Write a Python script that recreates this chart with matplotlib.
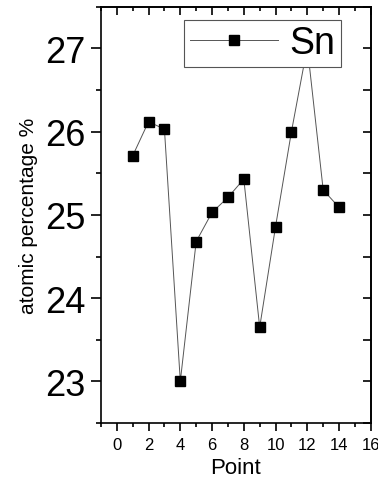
import matplotlib
matplotlib.use("Agg")
import matplotlib.pyplot as plt
from matplotlib.ticker import MultipleLocator

plt.rcParams["font.family"] = ["Liberation Sans", "DejaVu Sans"]

points = [1, 2, 3, 4, 5, 6, 7, 8, 9, 10, 11, 12, 13, 14]
sn = [25.71, 26.12, 26.03, 23.0, 24.68, 25.03, 25.21, 25.43, 23.65,
      24.86, 26.0, 27.02, 25.30, 25.09]

fig = plt.figure(figsize=(3.78, 4.89), dpi=100)
ax = fig.add_axes([0.267, 0.133, 0.714, 0.851])

ax.plot(points, sn, color="#555555", linewidth=0.7, marker="s",
        markersize=7, markerfacecolor="black", markeredgecolor="black",
        label="Sn")

ax.set_xlim(-1, 16)
ax.set_ylim(22.5, 27.5)
ax.xaxis.set_major_locator(MultipleLocator(2))
ax.xaxis.set_minor_locator(MultipleLocator(1))
ax.yaxis.set_major_locator(MultipleLocator(1))
ax.yaxis.set_minor_locator(MultipleLocator(0.5))

ax.tick_params(axis="x", which="major", direction="out", length=6, width=1.2,
               labelsize=12, pad=4)
ax.tick_params(axis="x", which="minor", direction="out", length=3, width=1.2)
ax.tick_params(axis="y", which="major", direction="out", length=7, width=1.2,
               labelsize=26, pad=4)
ax.tick_params(axis="y", which="minor", direction="out", length=3.5, width=1.2)

# mirrored ticks on top and right, pointing inward
top = ax.secondary_xaxis("top")
top.xaxis.set_major_locator(MultipleLocator(2))
top.xaxis.set_minor_locator(MultipleLocator(1))
top.tick_params(which="major", direction="in", length=6, width=1.2, labeltop=False)
top.tick_params(which="minor", direction="in", length=3, width=1.2)
right = ax.secondary_yaxis("right")
right.yaxis.set_major_locator(MultipleLocator(1))
right.yaxis.set_minor_locator(MultipleLocator(0.5))
right.tick_params(which="both", direction="in", length=6, width=1.2, labelright=False)

for sp in ax.spines.values():
    sp.set_linewidth(1.2)
top.spines["top"].set_linewidth(1.2)
right.spines["right"].set_linewidth(1.2)

ax.set_xlabel("Point", fontsize=16, labelpad=4)
ax.set_ylabel("atomic percentage %", fontsize=15, labelpad=5)

leg = ax.legend(loc="upper right", bbox_to_anchor=(0.889, 0.969), fontsize=27,
                frameon=True, fancybox=False, framealpha=1, edgecolor="#555555",
                handlelength=2.35, handletextpad=0.3, borderpad=0.15,
                borderaxespad=0)
leg.get_frame().set_linewidth(0.8)
leg.set_zorder(5)

fig.savefig("out.png", dpi=100)
